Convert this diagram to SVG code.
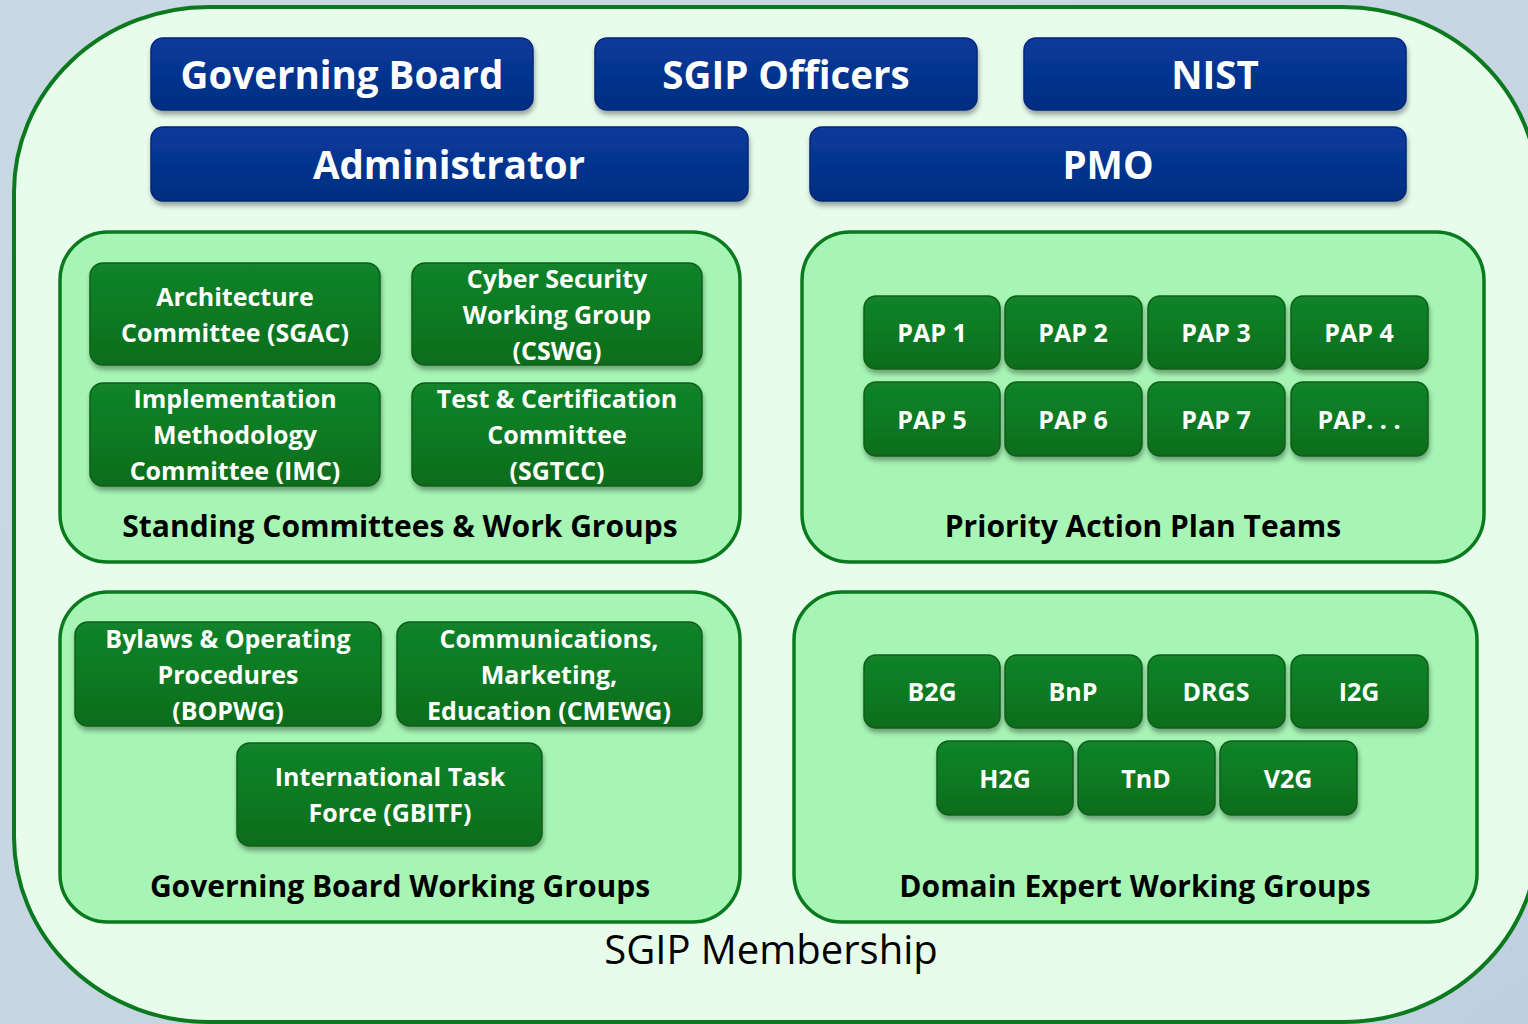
<svg xmlns="http://www.w3.org/2000/svg" width="1528" height="1024" viewBox="0 0 1528 1024">
<defs>
<linearGradient id="bg" x1="0" y1="0" x2="1" y2="1">
<stop offset="0" stop-color="#c9d9e4"/><stop offset="0.6" stop-color="#c6d5e1"/><stop offset="1" stop-color="#bfd0de"/>
</linearGradient>
<linearGradient id="blue" x1="0" y1="0" x2="0" y2="1">
<stop offset="0" stop-color="#0a3a9c"/><stop offset="0.5" stop-color="#05348f"/><stop offset="1" stop-color="#032d80"/>
</linearGradient>
<linearGradient id="green" x1="0" y1="0" x2="0" y2="1">
<stop offset="0" stop-color="#12832a"/><stop offset="0.5" stop-color="#0e7a22"/><stop offset="1" stop-color="#0a6c1c"/>
</linearGradient>
<filter id="sh" x="-10%" y="-20%" width="120%" height="150%">
<feDropShadow dx="1" dy="4" stdDeviation="2.5" flood-color="#000" flood-opacity="0.35"/>
</filter>
<style>
.bb{fill:url(#blue);stroke:#02267a;stroke-width:1.5;filter:url(#sh)}
.gb{fill:url(#green);stroke:#0a5f18;stroke-width:1.5;filter:url(#sh)}
.panel{fill:#a7f5b5;stroke:#0b7a1e;stroke-width:3.5}
.bt{font-family:"Open Sans",Lato,sans-serif;font-weight:bold;font-size:38.5px;fill:#fff;text-anchor:middle}
.gt{font-family:"Open Sans",Lato,sans-serif;font-weight:bold;font-size:25px;fill:#fff;text-anchor:middle}
.pt{font-family:"Open Sans",Lato,sans-serif;font-weight:bold;font-size:25px;fill:#fff;text-anchor:middle}
.lb{font-family:"Open Sans",Lato,sans-serif;font-weight:bold;font-size:30px;fill:#000;text-anchor:middle}
.mb{font-family:"Open Sans",Lato,sans-serif;font-size:40px;fill:#000;text-anchor:middle}
</style>
</defs>
<rect width="1528" height="1024" fill="url(#bg)"/>
<g id="membership">
<rect x="14" y="7" width="1524" height="1015" rx="195" ry="185" fill="#e8fcec" stroke="#0b7a1e" stroke-width="4"/>
<text class="mb" x="771" y="964">SGIP Membership</text>
</g>
<g id="top">
<g id="governing-board"><rect class="bb" x="151" y="38" width="382" height="72" rx="12"/><text class="bt" x="342" y="89">Governing Board</text></g>
<g id="sgip-officers"><rect class="bb" x="595" y="38" width="382" height="72" rx="12"/><text class="bt" x="786" y="89">SGIP Officers</text></g>
<g id="nist"><rect class="bb" x="1024" y="38" width="382" height="72" rx="12"/><text class="bt" x="1215" y="89">NIST</text></g>
<g id="administrator"><rect class="bb" x="151" y="127" width="597" height="74" rx="12"/><text class="bt" x="449" y="179">Administrator</text></g>
<g id="pmo"><rect class="bb" x="810" y="127" width="596" height="74" rx="12"/><text class="bt" x="1108" y="179">PMO</text></g>
</g>
<g id="standing-committees">
<rect class="panel" x="60" y="232" width="680" height="330" rx="48"/>
<text class="lb" x="400" y="537">Standing Committees &amp; Work Groups</text>
<g id="sgac"><rect class="gb" x="90" y="263" width="290" height="102" rx="13"/><text class="gt" x="235" y="306">Architecture</text><text class="gt" x="235" y="342">Committee (SGAC)</text></g>
<g id="cswg"><rect class="gb" x="412" y="263" width="290" height="102" rx="13"/><text class="gt" x="557" y="288">Cyber Security</text><text class="gt" x="557" y="324">Working Group</text><text class="gt" x="557" y="360">(CSWG)</text></g>
<g id="imc"><rect class="gb" x="90" y="383" width="290" height="103" rx="13"/><text class="gt" x="235" y="408">Implementation</text><text class="gt" x="235" y="444">Methodology</text><text class="gt" x="235" y="480">Committee (IMC)</text></g>
<g id="sgtcc"><rect class="gb" x="412" y="383" width="290" height="103" rx="13"/><text class="gt" x="557" y="408">Test &amp; Certification</text><text class="gt" x="557" y="444">Committee</text><text class="gt" x="557" y="480">(SGTCC)</text></g>
</g>
<g id="pap-teams">
<rect class="panel" x="802" y="232" width="682" height="330" rx="48"/>
<text class="lb" x="1143" y="537">Priority Action Plan Teams</text>
<g id="pap1"><rect class="gb" x="864" y="296" width="136" height="73" rx="12"/><text class="pt" x="932" y="342">PAP 1</text></g>
<g id="pap2"><rect class="gb" x="1005" y="296" width="137" height="73" rx="12"/><text class="pt" x="1073" y="342">PAP 2</text></g>
<g id="pap3"><rect class="gb" x="1148" y="296" width="137" height="73" rx="12"/><text class="pt" x="1216" y="342">PAP 3</text></g>
<g id="pap4"><rect class="gb" x="1291" y="296" width="137" height="73" rx="12"/><text class="pt" x="1359" y="342">PAP 4</text></g>
<g id="pap5"><rect class="gb" x="864" y="382" width="136" height="74" rx="12"/><text class="pt" x="932" y="429">PAP 5</text></g>
<g id="pap6"><rect class="gb" x="1005" y="382" width="137" height="74" rx="12"/><text class="pt" x="1073" y="429">PAP 6</text></g>
<g id="pap7"><rect class="gb" x="1148" y="382" width="137" height="74" rx="12"/><text class="pt" x="1216" y="429">PAP 7</text></g>
<g id="pap-more"><rect class="gb" x="1291" y="382" width="137" height="74" rx="12"/><text class="pt" x="1359" y="429">PAP. . .</text></g>
</g>
<g id="gb-working-groups">
<rect class="panel" x="60" y="592" width="680" height="330" rx="48"/>
<text class="lb" x="400" y="897">Governing Board Working Groups</text>
<g id="bopwg"><rect class="gb" x="75" y="622" width="306" height="104" rx="13"/><text class="gt" x="228" y="648">Bylaws &amp; Operating</text><text class="gt" x="228" y="684">Procedures</text><text class="gt" x="228" y="720">(BOPWG)</text></g>
<g id="cmewg"><rect class="gb" x="397" y="622" width="305" height="104" rx="13"/><text class="gt" x="549" y="648">Communications,</text><text class="gt" x="549" y="684">Marketing,</text><text class="gt" x="549" y="720">Education (CMEWG)</text></g>
<g id="gbitf"><rect class="gb" x="237" y="743" width="305" height="103" rx="13"/><text class="gt" x="390" y="786">International Task</text><text class="gt" x="390" y="822">Force (GBITF)</text></g>
</g>
<g id="domain-expert">
<rect class="panel" x="794" y="592" width="683" height="330" rx="48"/>
<text class="lb" x="1135" y="897">Domain Expert Working Groups</text>
<g id="b2g"><rect class="gb" x="864" y="655" width="136" height="73" rx="12"/><text class="pt" x="932" y="701">B2G</text></g>
<g id="bnp"><rect class="gb" x="1005" y="655" width="137" height="73" rx="12"/><text class="pt" x="1073" y="701">BnP</text></g>
<g id="drgs"><rect class="gb" x="1148" y="655" width="137" height="73" rx="12"/><text class="pt" x="1216" y="701">DRGS</text></g>
<g id="i2g"><rect class="gb" x="1291" y="655" width="137" height="73" rx="12"/><text class="pt" x="1359" y="701">I2G</text></g>
<g id="h2g"><rect class="gb" x="937" y="741" width="136" height="74" rx="12"/><text class="pt" x="1005" y="788">H2G</text></g>
<g id="tnd"><rect class="gb" x="1078" y="741" width="137" height="74" rx="12"/><text class="pt" x="1146" y="788">TnD</text></g>
<g id="v2g"><rect class="gb" x="1220" y="741" width="137" height="74" rx="12"/><text class="pt" x="1288" y="788">V2G</text></g>
</g>
<g id="connectors"/>
</svg>
